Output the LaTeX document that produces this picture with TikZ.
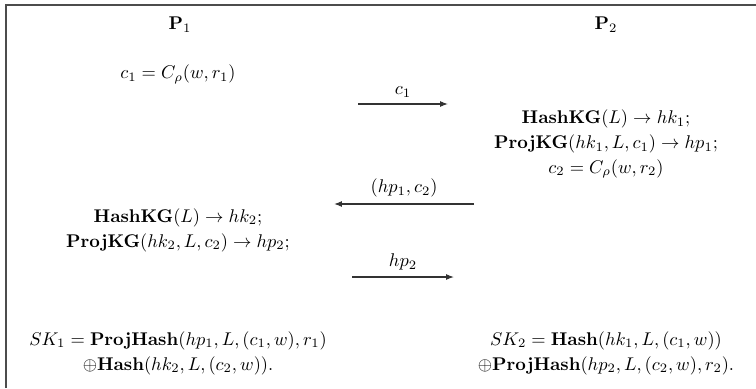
\documentclass[tikz,border=0pt]{standalone}
\usepackage{amsmath}
\usepackage{tikz}
\usetikzlibrary{arrows.meta,positioning}

\begin{document}
\begin{tikzpicture}[
      x=0.5435pt, y=-0.5435pt,
      party/.style={inner sep=1pt},
      calcbox/.style={align=center, inner sep=1pt},
      msg/.style={-{Latex[length=1.5mm]}, semithick, black!80}
    ]
    \useasboundingbox (0,0) rectangle (756,388);
    \draw[black!70, line width=0.7pt] (6,388) -- (6,5) -- (756,5);
    % the two parties
    \node[party] (p1) at (180,25) {$\mathbf{P}_1$};
    \node[party] (p2) at (606,25) {$\mathbf{P}_2$};
    % first round
    \node[calcbox] (enc1) at (178,74) {$c_1 = C_\rho(w, r_1)$};
    \coordinate (m1s) at (358,104);
    \coordinate (m1e) at (448,104);
    \draw[msg] (m1s) -- node[above, black] {$c_1$} (m1e);
    \node[calcbox] (kg1) at (606,144) {$\mathbf{HashKG}(L) \rightarrow hk_1;$\\[1.5pt]
      $\mathbf{ProjKG}(hk_1, L, c_1) \rightarrow hp_1;$\\[1.5pt]
      $c_2 = C_\rho(w, r_2)$};
    % second round
    \coordinate (m2s) at (474,204);
    \coordinate (m2e) at (334,204);
    \draw[msg] (m2s) -- node[above, black] {$(hp_1, c_2)$} (m2e);
    \node[calcbox] (kg2) at (178,230) {$\mathbf{HashKG}(L) \rightarrow hk_2;$\\[1.5pt]
      $\mathbf{ProjKG}(hk_2, L, c_2) \rightarrow hp_2;$};
    % third round
    \coordinate (m3s) at (352,277);
    \coordinate (m3e) at (454,277);
    \draw[msg] (m3s) -- node[above, black] {$hp_2$} (m3e);
    % session keys
    \node[calcbox] (sk1) at (178,353) {$SK_1 = \mathbf{ProjHash}(hp_1, L, (c_1, w), r_1)$\\[1.5pt]
      $\oplus\mathbf{Hash}(hk_2, L, (c_2, w)).$};
    \node[calcbox] (sk2) at (606,353) {$SK_2 = \mathbf{Hash}(hk_1, L, (c_1, w))$\\[1.5pt]
      $\oplus\mathbf{ProjHash}(hp_2, L, (c_2, w), r_2).$};
  \end{tikzpicture}
\end{document}
